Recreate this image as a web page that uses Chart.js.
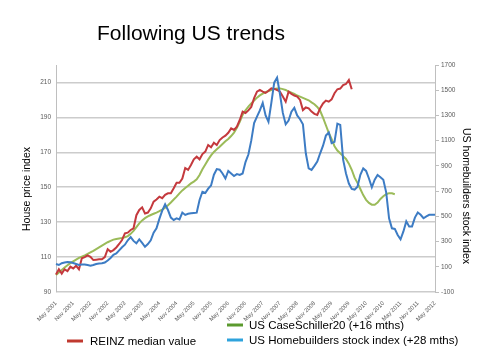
<!DOCTYPE html>
<html><head><meta charset="utf-8">
<script src="https://cdn.jsdelivr.net/npm/chart.js@4"></script>
<style>html,body{margin:0;padding:0;background:#fff;}#wrap{width:490px;height:360px;position:relative;}</style>
</head><body><div id="wrap"><canvas id="c" width="490" height="360"></canvas></div>
<script>
const titleText = 'Following US trends';
const leftTitle = 'House price index';
const rightTitle = 'US homebuilders stock index';
const tickLabels = ['May 2001','Nov 2001','May 2002','Nov 2002','May 2003','Nov 2003','May 2004','Nov 2004','May 2005','Nov 2005','May 2006','Nov 2006','May 2007','Nov 2007','May 2008','Nov 2008','May 2009','Nov 2009','May 2010','Nov 2010','May 2011','Nov 2011','May 2012'];
const leftTicks = [90,110,130,150,170,190,210];
const rightTicks = [-100,100,300,500,700,900,1100,1300,1500,1700];
const seriesNames = ['REINZ median value','US CaseSchiller20 (+16 mths)','US Homebuilders stock index (+28 mths)'];

// REINZ median value (left axis), monthly from May 2001
const reinz = [100,103,100.5,103,102,104.5,103.5,105,103,109.3,110,111,110.2,108.3,108.5,108.7,108.7,110,114.5,113,114,115.5,117.5,119.8,123.6,124,125.5,126.5,134,137,138.5,135,135.5,137.9,141.7,143,144.6,143.7,145.6,146.5,146.5,149.4,152.6,152.6,155,161,159.9,162.7,166,167.5,166,169,170.4,174.2,172.9,175.5,174.2,177,178.5,179.5,181.2,183.7,182.8,184.7,188.5,193.3,192.5,194,196,201,204.7,205.7,204.8,204,205.2,206.7,206.3,205.7,204.7,201.9,199,204.7,203.5,202.5,201.9,200,194.2,195.7,195.2,193.3,192,191.4,195.2,198,199.6,199,200.3,203.8,206.1,206.5,208.5,209.1,211.4,206.1];

// US CaseSchiller20 shifted +16 months (left axis)
const caseShiller = [99.7,101.2,102.6,104,105.3,106.5,107.5,108.5,109.5,110.3,111,111.8,112.7,113.6,114.6,115.6,116.6,117.6,118.5,119.3,120,120.4,120.7,121,121.4,122,123.3,125,127.2,129.3,131,132.3,133.3,134.1,134.8,135.5,136.3,137.2,138.3,139.7,141.3,143,144.6,146.5,148.2,149.6,150.8,152.2,153.2,154.5,157,160.3,163,165.8,168.2,170.2,171.8,173.2,174.8,176.3,177.6,179.3,181.3,184,187.5,191.5,194,196.2,198,199.6,201.3,202.6,203.6,204.4,205.1,205.7,206.3,206.6,206.6,206.2,205.7,204.8,204.2,203.4,202.5,201.9,201.2,200.5,199.8,198.6,197.5,196,193.8,189.8,185.5,181.2,177.5,173.5,171,169.5,167.8,166.2,163.5,160,155.5,152.5,149,145.5,142.8,141,140,140,141.2,143.3,144.8,146,146.6,146.5,146];

// US Homebuilders stock index shifted +28 months (right axis)
const homebuilders = [122,114,128,134,138,136,130,122,114,118,118,114,108,114,122,126,128,134,150,170,195,205,230,255,275,310,335,305,286,318,290,259,280,310,370,405,480,545,595,550,490,471,484,475,530,511,520,524,527,529,630,695,685,720,745,830,875,870,840,800,860,840,820,835,828,840,930,990,1100,1240,1290,1340,1400,1300,1250,1400,1560,1600,1470,1320,1230,1260,1330,1360,1300,1270,1230,1000,880,868,900,935,1000,1060,1140,1165,1080,1090,1235,1225,950,840,760,717,712,735,830,880,860,800,730,790,828,810,790,690,484,405,400,352,318,380,460,420,420,490,530,512,485,500,512,513,512];

// monthly categories expanded from the 6-monthly tick labels
const monNames = ['Jan','Feb','Mar','Apr','May','Jun','Jul','Aug','Sep','Oct','Nov','Dec'];
const months = [];
{
  let m = monNames.indexOf(tickLabels[0].split(' ')[0]);
  let y = parseInt(tickLabels[0].split(' ')[1], 10);
  const n = (tickLabels.length - 1) * 6 + 1;
  for (let k = 0; k < n; k++) { months.push(monNames[m] + ' ' + y); m++; if (m > 11) { m = 0; y++; } }
}

const FONT = '"Liberation Sans", Arial, sans-serif';
const legendItems = [
  {label: seriesNames[0], color: '#c0392f', x1: 67, x2: 83, tx: 90, y: 341},
  {label: seriesNames[1], color: '#5b9a2e', x1: 227, x2: 243, tx: 249, y: 325},
  {label: seriesNames[2], color: '#2ea3dc', x1: 227, x2: 243, tx: 249, y: 340}
];

const overlay = {
  id: 'overlay',
  afterDraw(chart) {
    const ctx = chart.ctx;
    ctx.save();
    ctx.fillStyle = '#000';
    ctx.font = '21px ' + FONT;
    ctx.textAlign = 'center';
    ctx.textBaseline = 'alphabetic';
    ctx.fillText(titleText, 191, 40);

    ctx.font = '10.5px ' + FONT;
    ctx.textBaseline = 'middle';
    ctx.save(); ctx.translate(27, 189); ctx.rotate(-Math.PI / 2); ctx.fillText(leftTitle, 0, 0); ctx.restore();
    ctx.save(); ctx.translate(466, 196); ctx.rotate(Math.PI / 2); ctx.fillText(rightTitle, 0, 0); ctx.restore();

    ctx.font = '11.5px ' + FONT;
    ctx.textAlign = 'left';
    legendItems.forEach(it => {
      ctx.strokeStyle = it.color; ctx.lineWidth = 3;
      ctx.beginPath(); ctx.moveTo(it.x1, it.y); ctx.lineTo(it.x2, it.y); ctx.stroke();
      ctx.fillStyle = '#000';
      ctx.fillText(it.label, it.tx, it.y + 0.5);
    });
    ctx.restore();
  }
};

new Chart(document.getElementById('c'), {
  type: 'line',
  data: {
    labels: months,
    datasets: [
      {label: seriesNames[0], data: reinz, yAxisID: 'yL', borderColor: '#c4393d', borderWidth: 2, pointRadius: 0, fill: false, order: 1},
      {label: seriesNames[1], data: caseShiller, yAxisID: 'yL', borderColor: '#9bbb59', borderWidth: 2, pointRadius: 0, fill: false, order: 2},
      {label: seriesNames[2], data: homebuilders, yAxisID: 'yR', borderColor: '#3d7cc4', borderWidth: 2, pointRadius: 0, fill: false, order: 0}
    ]
  },
  options: {
    responsive: false, animation: false, devicePixelRatio: 1,
    layout: {padding: {top: 65, left: 0, right: 0, bottom: 0}},
    plugins: {legend: {display: false}, title: {display: false}, tooltip: {enabled: false}},
    elements: {line: {tension: 0}, point: {radius: 0}},
    scales: {
      x: {
        type: 'category', offset: false,
        grid: {display: false}, border: {display: false},
        ticks: {autoSkip: false, maxRotation: 45, minRotation: 45, padding: 0, color: '#595959',
          font: {size: 5.8, family: FONT},
          callback: (v, i) => (i % 6 === 0 ? months[i] : null)},
        afterFit: s => { s.height = 68; }
      },
      yL: {
        position: 'left', min: 90, max: 220,
        afterBuildTicks: s => { s.ticks = leftTicks.map(v => ({value: v})); },
        grid: {color: '#cccccc', lineWidth: 1.5, drawTicks: false},
        border: {display: true, color: '#bfbfbf', width: 1},
        ticks: {padding: 5, color: '#595959', font: {size: 6.5, family: FONT}, callback: v => String(v)},
        afterFit: s => { s.width = 56; }
      },
      yR: {
        position: 'right', min: -100, max: 1700,
        afterBuildTicks: s => { s.ticks = rightTicks.map(v => ({value: v})); },
        grid: {drawOnChartArea: false, drawTicks: true, tickLength: 4, color: '#bfbfbf'},
        border: {display: true, color: '#bfbfbf', width: 1},
        ticks: {padding: 2, color: '#595959', font: {size: 6.5, family: FONT}, callback: v => String(v)},
        afterFit: s => { s.width = 55; }
      }
    }
  },
  plugins: [overlay]
});
</script>
</body></html>
